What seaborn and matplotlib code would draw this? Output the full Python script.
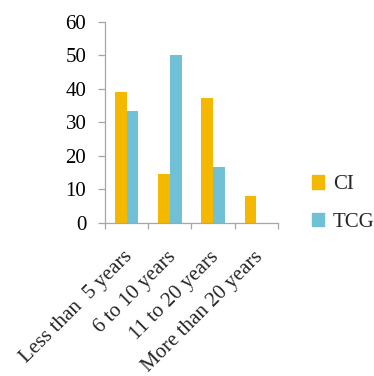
import numpy as np
import pandas as pd
import matplotlib
matplotlib.use("Agg")
import matplotlib.pyplot as plt
import matplotlib.patches as mpatches
from matplotlib.transforms import ScaledTranslation
import seaborn as sns

categories = ["Less than  5 years", "6 to 10 years", "11 to 20 years", "More than 20 years"]
ci_values = [39.0, 14.6, 37.2, 7.9]
tcg_values = [33.3, 50.0, 16.7, np.nan]
series = ["CI", "TCG"]
colors = ["#F4B800", "#71C1D6"]

df = pd.DataFrame({
    "category": categories * 2,
    "series": [series[0]] * 4 + [series[1]] * 4,
    "value": ci_values + tcg_values,
})

sns.set_style("white")
plt.rcParams["font.family"] = ["Liberation Serif", "DejaVu Serif"]
plt.rcParams["font.size"] = 15

fig = plt.figure(figsize=(3.74, 3.76), dpi=100)
ax = fig.add_axes([0.281, 0.407, 0.462, 0.535])

sns.barplot(data=df, x="category", y="value", hue="series", hue_order=series,
            palette=colors, width=0.54, saturation=1, ax=ax, legend=False,
            linewidth=0)

ax.set_xlim(-0.5, 3.5)
ax.set_ylim(0, 60)
ax.set_yticks(range(0, 61, 10))
ax.set_xlabel("")
ax.set_ylabel("")

axis_grey = "#A6A6A6"
for side in ["top", "right"]:
    ax.spines[side].set_visible(False)
for side in ["left", "bottom"]:
    ax.spines[side].set_color(axis_grey)
    ax.spines[side].set_linewidth(0.9)

# x ticks at category boundaries, labels under category centres
ax.set_xticks([-0.5, 0.5, 1.5, 2.5, 3.5])
ax.set_xticklabels([])
ax.set_xticks(range(4), minor=True)
ax.set_xticklabels(categories, minor=True, rotation=45, ha="right",
                   va="center", rotation_mode="anchor")
ax.tick_params(axis="x", which="minor", bottom=False, length=0, pad=0,
               labelsize=15)
ax.tick_params(axis="x", which="major", bottom=True, length=4.5,
               color=axis_grey, width=0.9, direction="out")
ax.tick_params(axis="y", left=True, length=5, color=axis_grey, width=0.9,
               direction="out", pad=8.5, labelsize=15, labelcolor="#000000")
for lbl in ax.get_xticklabels(minor=True):
    lbl.set_transform(lbl.get_transform()
                      + ScaledTranslation(0.035, -0.31, fig.dpi_scale_trans))

handles = [mpatches.Patch(color=c, label=s) for c, s in zip(colors, series)]
fig.legend(handles=handles, loc="center left", bbox_to_anchor=(0.806, 0.458),
           frameon=False, handlelength=0.6, handleheight=0.6,
           handletextpad=0.4, labelspacing=0.9, fontsize=15, borderpad=0)

fig.savefig("out.png", dpi=100)
